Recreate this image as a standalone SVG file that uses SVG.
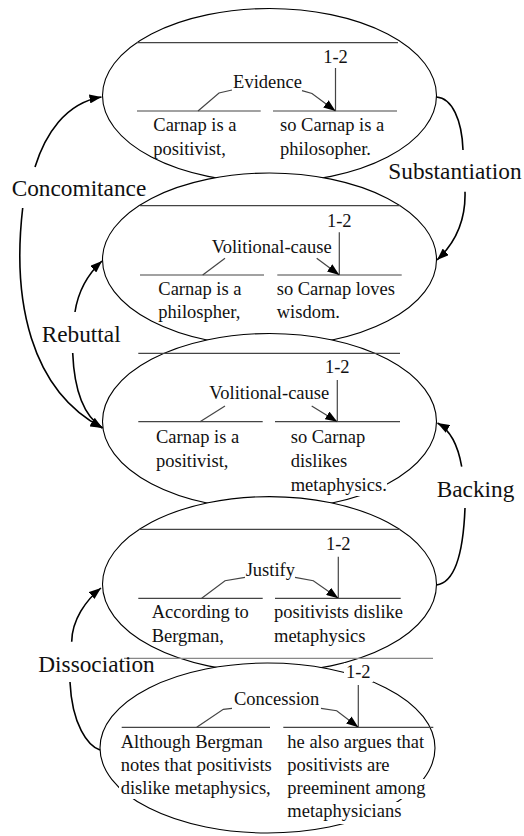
<svg xmlns="http://www.w3.org/2000/svg" width="524" height="836" viewBox="0 0 524 836">
<defs>
<marker id="ah" markerWidth="12" markerHeight="9" refX="12" refY="4.5" orient="auto" markerUnits="userSpaceOnUse"><path d="M0,0 L12,4.5 L0,9 z" fill="#000"/></marker>
<marker id="ai" markerWidth="12" markerHeight="9" refX="12" refY="4.5" orient="auto" markerUnits="userSpaceOnUse"><path d="M0,0 L12,4.5 L0,9 z" fill="#000"/></marker>
</defs>
<style>
.node ellipse{fill:#fff;stroke:#000;stroke-width:1.1}
.ln{stroke:#444;stroke-width:1.2;fill:none}
.hd{stroke:#888;stroke-width:1.3;fill:none}
text{font-family:'Liberation Serif','Times New Roman','DejaVu Serif',serif;fill:#111}
.t{font-size:18.5px}
.c{text-anchor:middle}
.lbl{font-size:23.3px}
.edge{fill:none;stroke:#000;stroke-width:1.6}
.bg{fill:#fff}
</style>

<g id="n1" class="node">
<ellipse cx="269.5" cy="95.5" rx="167" ry="87"/>
<line class="ln" x1="137" y1="42.7" x2="398" y2="42.7"/>
<text class="t c" x="335.5" y="63" font-family="Liberation Serif, serif">1-2</text>
<line class="ln" x1="335.5" y1="68" x2="335.5" y2="111"/>
<line class="ln" x1="137" y1="111" x2="260.7" y2="111"/>
<line class="ln" x1="273" y1="111" x2="397" y2="111"/>
<text class="t c" x="267.5" y="88">Evidence</text>
<polyline class="ln" points="198,111 219,93 232,90"/>
<polyline class="ln" points="302,90.7 312,93.5 335.5,111" marker-end="url(#ai)"/>
<text class="t" x="153.3" y="131">Carnap is a</text>
<text class="t" x="153.3" y="154.5">positivist,</text>
<text class="t" x="280" y="131">so Carnap is a</text>
<text class="t" x="280" y="154.5">philosopher.</text>
</g>

<g id="n2" class="node">
<ellipse cx="269.5" cy="259.7" rx="167" ry="86.7"/>
<line class="ln" x1="140" y1="205.7" x2="400" y2="205.7"/>
<text class="t c" x="339.3" y="226.7">1-2</text>
<line class="ln" x1="339.3" y1="232.3" x2="339.3" y2="275"/>
<line class="ln" x1="140" y1="275" x2="264" y2="275"/>
<line class="ln" x1="277.3" y1="275" x2="401.7" y2="275"/>
<text class="t c" x="271.7" y="252.7">Volitional-cause</text>
<line class="ln" x1="202.7" y1="275" x2="225" y2="258.3"/>
<polyline class="ln" points="316.7,258.3 339.3,275" marker-end="url(#ai)"/>
<text class="t" x="158.3" y="295">Carnap is a</text>
<text class="t" x="158.3" y="318.3">philospher,</text>
<text class="t" x="276.7" y="295">so Carnap loves</text>
<text class="t" x="276.7" y="318.3">wisdom.</text>
</g>

<g id="n3" class="node">
<ellipse cx="269.5" cy="421.5" rx="167" ry="88"/>
<line class="ln" x1="138.3" y1="353.3" x2="400" y2="353.3"/>
<text class="t c" x="337.3" y="372.7">1-2</text>
<line class="ln" x1="337.3" y1="380" x2="337.3" y2="421.7"/>
<line class="ln" x1="138.3" y1="421.7" x2="262.7" y2="421.7"/>
<line class="ln" x1="275" y1="421.7" x2="400" y2="421.7"/>
<text class="t c" x="269.3" y="399.3">Volitional-cause</text>
<line class="ln" x1="200" y1="421.7" x2="225" y2="406"/>
<polyline class="ln" points="311.7,406 337.3,421.7" marker-end="url(#ai)"/>
<text class="t" x="156" y="443.3">Carnap is a</text>
<text class="t" x="156" y="466.7">positivist,</text>
<text class="t" x="290.7" y="443.3">so Carnap</text>
<text class="t" x="290.7" y="466.7">dislikes</text>
<rect class="bg" x="289" y="476" width="98" height="20"/>
<text class="t" x="290.7" y="491">metaphysics.</text>
</g>

<g id="n4" class="node">
<ellipse cx="269.5" cy="584.3" rx="167" ry="87.7"/>
<line class="ln" x1="139.3" y1="529.3" x2="400" y2="529.3"/>
<text class="t c" x="338.3" y="550">1-2</text>
<line class="ln" x1="338.3" y1="556.7" x2="338.3" y2="598.3"/>
<line class="ln" x1="138.3" y1="598.3" x2="262.7" y2="598.3"/>
<line class="ln" x1="275" y1="598.3" x2="400.7" y2="598.3"/>
<text class="t c" x="270.3" y="576">Justify</text>
<polyline class="ln" points="201.7,598.3 225,580.7 245,577.3"/>
<polyline class="ln" points="295,577.3 313.3,580.7 338.3,598.3" marker-end="url(#ai)"/>
<text class="t" x="151.7" y="618.3">According to</text>
<text class="t" x="151.7" y="641.7">Bergman,</text>
<text class="t" x="274" y="618.3">positivists dislike</text>
<text class="t" x="274" y="641.7">metaphysics</text>
</g>

<g id="n5" class="node">
<ellipse cx="267.5" cy="748" rx="167.5" ry="85"/>
<line class="hd" x1="124" y1="658.3" x2="433" y2="658.3"/>
<rect class="bg" x="344" y="663" width="29" height="19"/>
<text class="t c" x="358.3" y="678">1-2</text>
<line class="ln" x1="358.3" y1="685" x2="358.3" y2="727.3"/>
<line class="ln" x1="121.7" y1="727.3" x2="270" y2="727.3"/>
<line class="ln" x1="283.3" y1="727.3" x2="433.3" y2="727.3"/>
<text class="t c" x="276.7" y="705">Concession</text>
<polyline class="ln" points="196.7,727.3 223.3,709.3 232,708.3"/>
<polyline class="ln" points="321,708.3 336.7,710.7 358.3,727.3" marker-end="url(#ai)"/>
<text class="t" x="120.7" y="748.3">Although Bergman</text>
<text class="t" x="120.7" y="771">notes that positivists</text>
<rect class="bg" x="119" y="779" width="152" height="20"/>
<text class="t" x="120.7" y="794">dislike metaphysics,</text>
<text class="t" x="287.3" y="748.3">he also argues that</text>
<text class="t" x="287.3" y="771">positivists are</text>
<rect class="bg" x="286" y="779" width="141" height="20"/>
<text class="t" x="287.3" y="794">preeminent among</text>
<rect class="bg" x="286" y="802" width="116" height="22"/>
<text class="t" x="287.3" y="816.7">metaphysicians</text>
</g>

<g id="connectors">
<path class="edge" d="M35,167 C45,135 65,103 101.5,97" marker-end="url(#ah)"/>
<path class="edge" d="M22.7,208 C12,300 30,390 102.5,428" marker-end="url(#ah)"/>
<text class="lbl" x="11.7" y="196">Concomitance</text>
<path class="edge" d="M75,312 C78,292 88,274 102,261" marker-end="url(#ah)"/>
<path class="edge" d="M72.7,353 C74,385 82,415 102.5,428" marker-end="url(#ah)"/>
<text class="lbl" x="41.7" y="342">Rebuttal</text>
<path class="edge" d="M436.5,97 C452,98 462,120 463,150"/>
<path class="edge" d="M465,191.7 C466,225 452,246 437,260" marker-end="url(#ah)"/>
<text class="lbl" x="388.3" y="178.5">Substantiation</text>
<path class="edge" d="M436.5,585 C452,583 463,560 465,508"/>
<path class="edge" d="M461.7,466.7 C458,445 450,430 437.5,423" marker-end="url(#ah)"/>
<text class="lbl" x="436.7" y="496.7">Backing</text>
<path class="edge" d="M100,750 C88,746 72,725 70,682"/>
<path class="edge" d="M71.7,641.7 C72,620 86,600 101,588" marker-end="url(#ah)"/>
<text class="lbl" x="38.3" y="671.7">Dissociation</text>
</g>
</svg>
